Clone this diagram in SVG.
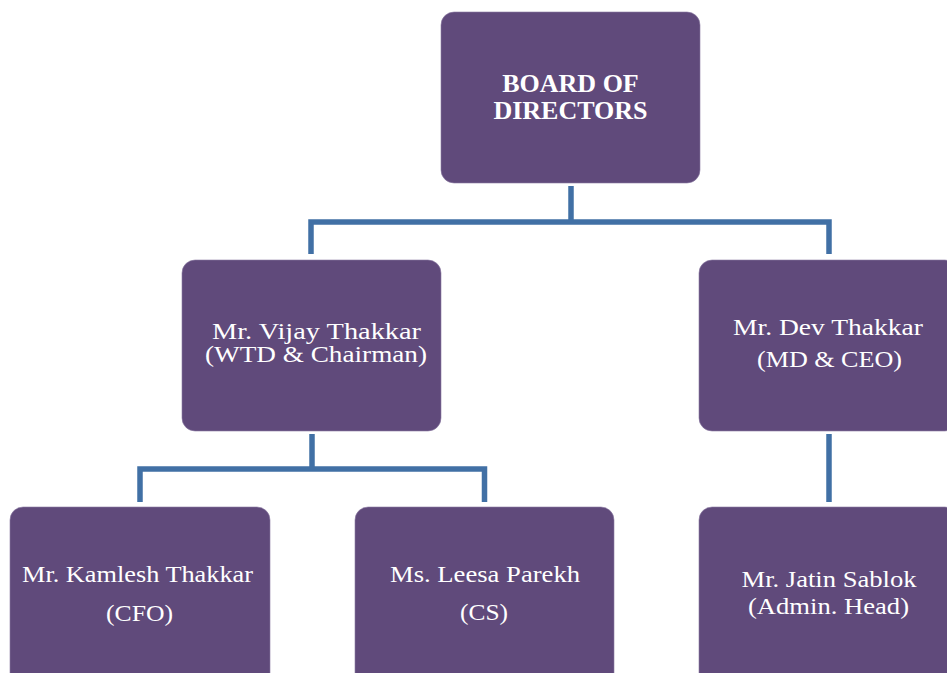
<svg xmlns="http://www.w3.org/2000/svg" width="947" height="673" viewBox="0 0 947 673">
<style>
.box{fill:#604A7B;stroke:#8B7AA3;stroke-width:0.6}
.t{font-family:'Liberation Serif','Times New Roman',Times,serif;font-size:24px;fill:#FFFFFF;text-anchor:middle}
.b{font-weight:bold;font-size:26px}
.c{fill:none;stroke:#4170A5;stroke-width:5.5;stroke-linejoin:miter;stroke-linecap:butt}
</style>
<rect width="947" height="673" fill="#FFFFFF"/>
<g id="connectors">
<path class="c" d="M571,186 V222"/>
<path class="c" d="M311,254 V222 H829 V254"/>
<path class="c" d="M312,434 V469"/>
<path class="c" d="M140,502 V469 H484.5 V502"/>
<path class="c" d="M829,434 V502"/>
</g>
<g id="board">
<rect class="box" x="441" y="12" width="259" height="171" rx="13"/>
<text class="t b" x="570.5" y="92">BOARD OF</text>
<text class="t b" x="570.5" y="119">DIRECTORS</text>
</g>
<g id="vijay">
<rect class="box" x="182" y="260" width="259" height="171" rx="13"/>
<text class="t" x="316.5" y="339" font-size="23" textLength="209" lengthAdjust="spacingAndGlyphs">Mr. Vijay Thakkar</text>
<text class="t" x="316" y="362" font-size="23" textLength="222" lengthAdjust="spacingAndGlyphs">(WTD &amp; Chairman)</text>
</g>
<g id="dev">
<rect class="box" x="699" y="260" width="259" height="171" rx="13"/>
<text class="t" x="828" y="335" textLength="190" lengthAdjust="spacingAndGlyphs">Mr. Dev  Thakkar</text>
<text class="t" x="829.5" y="367" textLength="145" lengthAdjust="spacingAndGlyphs">(MD &amp; CEO)</text>
</g>
<g id="kamlesh">
<rect class="box" x="10" y="507" width="260" height="180" rx="13"/>
<text class="t" x="137.5" y="582" textLength="231" lengthAdjust="spacingAndGlyphs">Mr. Kamlesh Thakkar</text>
<text class="t" x="139.5" y="621" textLength="67" lengthAdjust="spacingAndGlyphs">(CFO)</text>
</g>
<g id="leesa">
<rect class="box" x="355" y="507" width="259" height="180" rx="13"/>
<text class="t" x="485" y="582" textLength="190" lengthAdjust="spacingAndGlyphs">Ms. Leesa Parekh</text>
<text class="t" x="484" y="620" textLength="48" lengthAdjust="spacingAndGlyphs">(CS)</text>
</g>
<g id="jatin">
<rect class="box" x="699" y="507" width="259" height="180" rx="13"/>
<text class="t" x="829" y="587" textLength="175" lengthAdjust="spacingAndGlyphs">Mr. Jatin Sablok</text>
<text class="t" x="828.5" y="614" textLength="161" lengthAdjust="spacingAndGlyphs">(Admin. Head)</text>
</g>
</svg>
